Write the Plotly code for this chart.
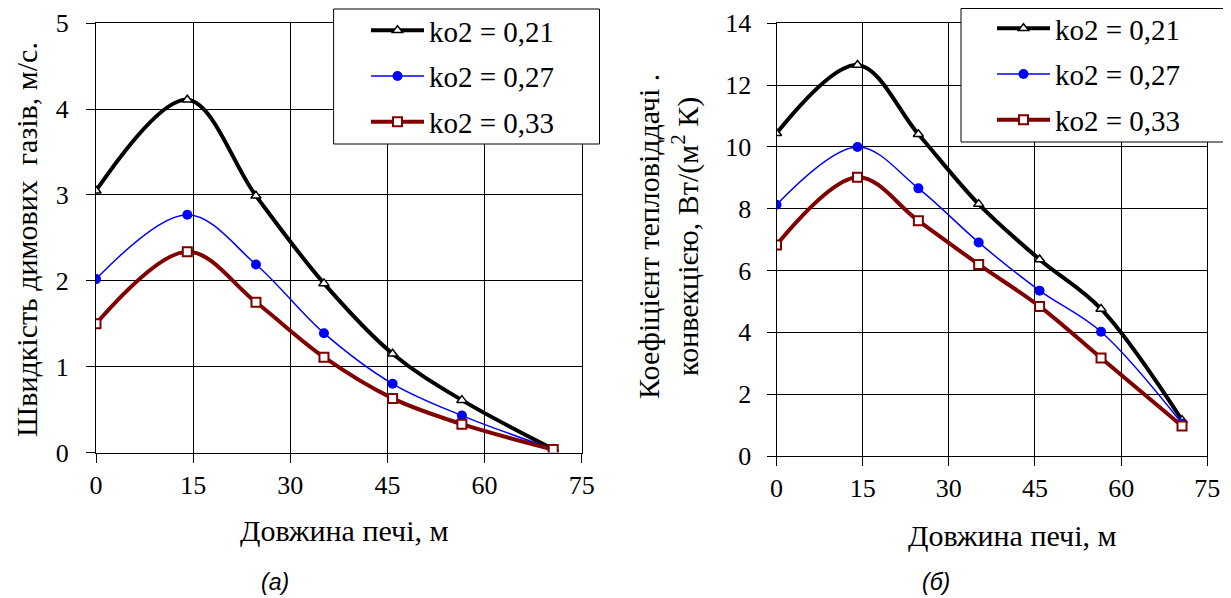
import plotly.graph_objects as go

# ── data ─────────────────────────────────────────────────────────────────────
LENGTH = [0, 14.1, 24.7, 35.2, 45.8, 56.5, 70.6]      # довжина печі, м

SERIES_NAMES = ["ko2 = 0,21", "ko2 = 0,27", "ko2 = 0,33"]

# (а) швидкість димових газів, м/с
SPEED_021 = [3.05, 4.11, 2.99, 1.97, 1.15, 0.61, 0.04]
SPEED_027 = [2.02, 2.77, 2.19, 1.39, 0.80, 0.43, 0.04]
SPEED_033 = [1.50, 2.34, 1.75, 1.11, 0.63, 0.33, 0.035]

# (б) коефіцієнт тепловіддачі конвекцією, Вт/(м2 К)
ALPHA_021 = [10.44, 12.65, 10.41, 8.15, 6.36, 4.76, 1.16]
ALPHA_027 = [8.13, 10.0, 8.66, 6.91, 5.35, 4.02, 1.05]
ALPHA_033 = [6.83, 9.02, 7.61, 6.20, 4.84, 3.17, 0.97]

X_TICKS = [0, 15, 30, 45, 60, 75]
Y1_TICKS = [0, 1, 2, 3, 4, 5]
Y2_TICKS = [0, 2, 4, 6, 8, 10, 12, 14]

# ── styling ──────────────────────────────────────────────────────────────────
W, H = 1231, 598
OFF = 8            # page body margin: the figure starts 8px in from the corner
SERIF = "Liberation Serif"
SANS = "Liberation Sans"

STYLES = [
    dict(line=dict(color="#000000", width=4),
         marker=dict(symbol="triangle-up", size=9, color="white",
                     line=dict(color="#000000", width=1.5))),
    dict(line=dict(color="#0000FF", width=1.5),
         marker=dict(symbol="circle", size=10, color="#0000FF",
                     line=dict(width=0))),
    dict(line=dict(color="#800000", width=4),
         marker=dict(symbol="square", size=9, color="white",
                     line=dict(color="#800000", width=2))),
]


def px_x(p):
    return (p - OFF) / W


def px_y(p):
    return 1 - (p - OFF) / H


fig = go.Figure()

panels = [
    ("x", "y", "legend", [SPEED_021, SPEED_027, SPEED_033]),
    ("x2", "y2", "legend2", [ALPHA_021, ALPHA_027, ALPHA_033]),
]
for xa, ya, leg, ys in panels:
    for i, (name, y) in enumerate(zip(SERIES_NAMES, ys)):
        fig.add_trace(go.Scatter(
            x=LENGTH, y=y, name=name, mode="lines+markers",
            line_shape="spline", line_smoothing=1.0,
            xaxis=xa, yaxis=ya, legend=leg,
            legendgroup=f"{leg}{i}",
            **STYLES[i],
        ))

axis_common = dict(
    showline=True, linecolor="black", linewidth=1, mirror=True,
    showgrid=True, gridcolor="black", gridwidth=1,
    zeroline=False, automargin=False,
    ticks="outside", ticklen=9, tickcolor="black", tickwidth=1,
    tickfont=dict(family=SERIF, size=26, color="black"),
    tickmode="array",
)

legend_common = dict(
    xanchor="left", yanchor="top",
    bgcolor="rgba(0,0,0,0)", borderwidth=0,
    font=dict(family=SERIF, size=29, color="black"),
    itemwidth=53, tracegroupgap=5,
)

# legend frames (white boxes over the grid)
frames = [(333.6, 9, 599.5, 144), (961, 8.5, 1227, 142)]
shapes = [
    dict(type="rect", xref="paper", yref="paper", layer="above",
         x0=px_x(x0), x1=px_x(x1), y0=px_y(y1), y1=px_y(y0),
         fillcolor="white", line=dict(color="black", width=1))
    for x0, y0, x1, y1 in frames
]

fig.update_layout(
    width=W, height=H,
    margin=dict(l=0, r=0, t=0, b=0, autoexpand=False),
    paper_bgcolor="white", plot_bgcolor="white",
    font=dict(family=SERIF, color="black"),
    xaxis=dict(domain=[px_x(96), px_x(581.7)], range=[0, 75], tickvals=X_TICKS,
               anchor="y", ticklabelstandoff=0, **axis_common),
    yaxis=dict(domain=[px_y(452.5), px_y(23.3)], range=[0, 5], tickvals=Y1_TICKS,
               anchor="x", ticklabelstandoff=12, **axis_common),
    xaxis2=dict(domain=[px_x(776.5), px_x(1207.3)], range=[0, 75], tickvals=X_TICKS,
                anchor="y2", ticklabelstandoff=0, **axis_common),
    yaxis2=dict(domain=[px_y(456), px_y(23.3)], range=[0, 14], tickvals=Y2_TICKS,
                anchor="x2", ticklabelstandoff=10, **axis_common),
    legend=dict(x=px_x(366), y=px_y(5), **legend_common),
    legend2=dict(x=px_x(992), y=px_y(3), **legend_common),
    shapes=shapes,
    showlegend=True,
)

# axis titles and panel captions
texts = [
    ("Довжина печі, м", 344, 530, 0, SERIF, 30),
    ("Довжина печі, м", 1012, 535, 0, SERIF, 30),
    ("Швидкість димових\u00a0 газів, м/с.", 27, 240, -90, SERIF, 30),
    ("Коефіцієнт тепловіддачі .<br>конвекцією, Вт/(м<sup>2</sup> К)", 668, 237, -90, SERIF, 30),
    ("<i>(а)</i>", 275, 582, 0, SANS, 23),
    ("<i>(б)</i>", 936, 582, 0, SANS, 23),
]
for text, cx, cy, ang, fam, size in texts:
    fig.add_annotation(
        text=text, x=px_x(cx), y=px_y(cy), xref="paper", yref="paper",
        xanchor="center", yanchor="middle", showarrow=False, textangle=ang,
        font=dict(family=fam, size=size, color="black"),
    )

fig.write_html("out.html")
